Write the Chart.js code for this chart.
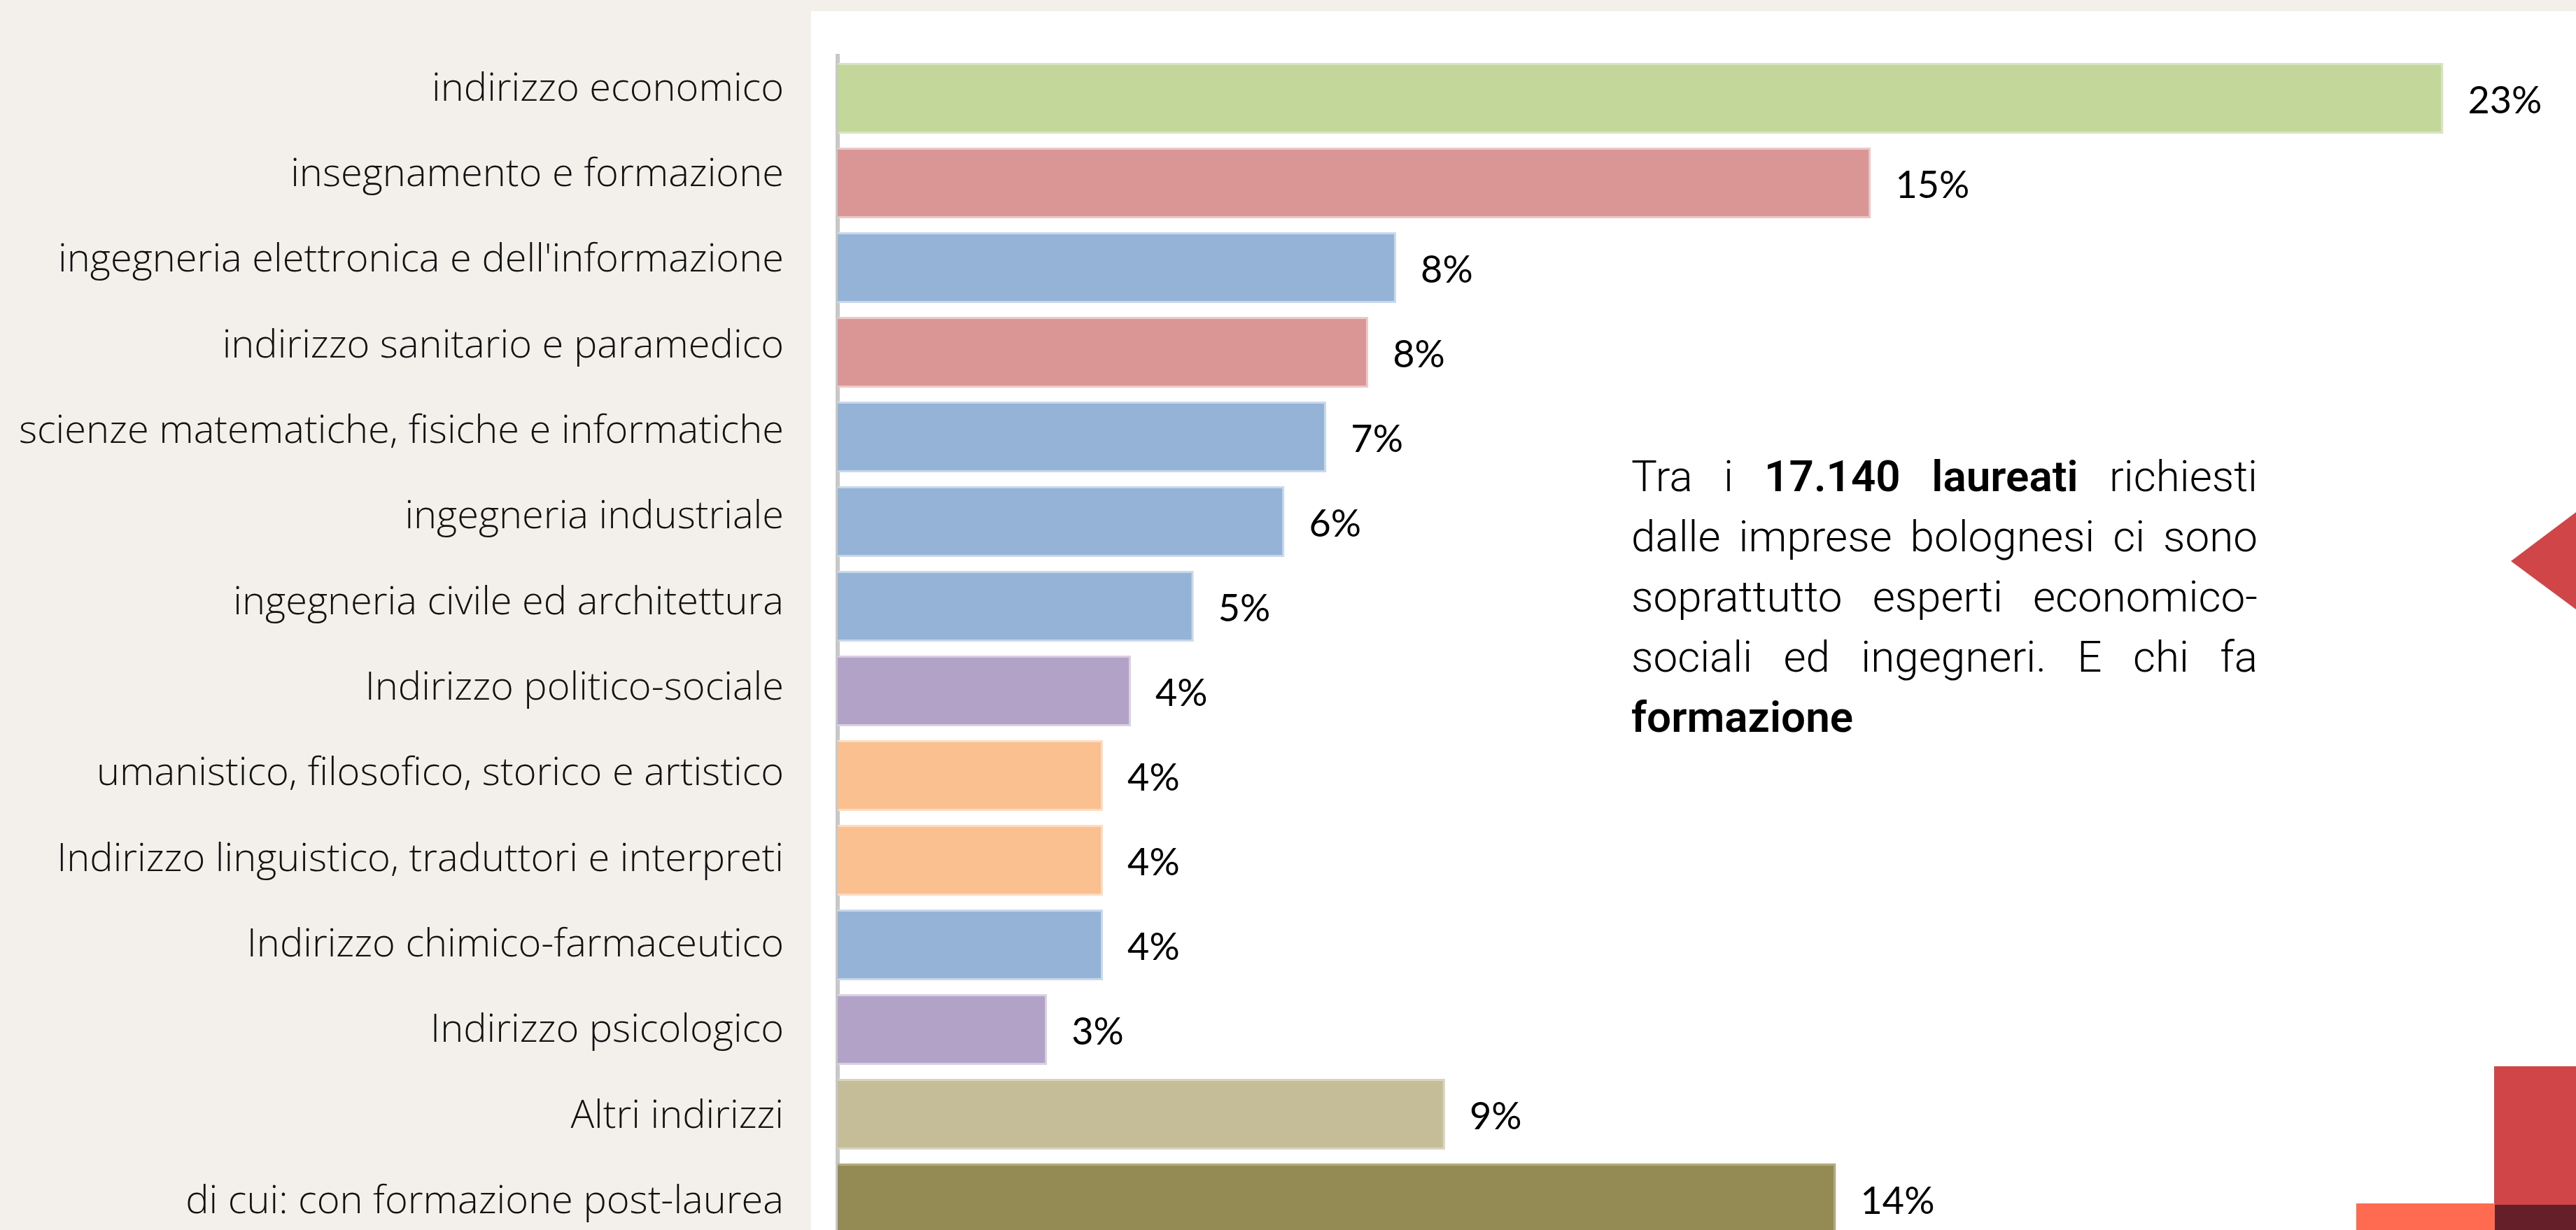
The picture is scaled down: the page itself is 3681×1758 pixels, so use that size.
<!DOCTYPE html>
<html lang="it">
<head>
<meta charset="utf-8">
<title>Laureati richiesti dalle imprese bolognesi</title>
<script src="https://cdn.jsdelivr.net/npm/chart.js@4.4.1/dist/chart.umd.min.js"></script>
<style>
  html, body { margin: 0; padding: 0; }
  body { width: 3681px; height: 1758px; overflow: hidden; background: #f3f0eb; position: relative; }
  #panel { position: absolute; left: 1159px; top: 16px; right: 0; bottom: 0; background: #fff; }
  #chart { position: absolute; left: 0; top: 0; }
  .note { position: absolute; left: 2331px; top: 638px; width: 895px; font-family: Roboto, sans-serif; font-weight: 300; font-size: 62px; line-height: 86px; color: #000; }
  .note .line { text-align: justify; text-align-last: justify; }
  .note b { font-weight: 600; }
  .deco { position: absolute; }
  #arrow { left: 3588px; top: 732px; width: 93px; height: 139px; background: #cf4548; clip-path: polygon(0 70px, 100% 0, 100% 100%); }
  #redBlock { left: 3564px; top: 1524px; right: 0; height: 198px; background: #cf4548; }
  #darkBlock { left: 3565px; top: 1722px; right: 0; bottom: 0; background: #651f29; }
  #orangeBlock { left: 3367px; top: 1720px; width: 198px; bottom: 0; background: #ff6b50; }
</style>
</head>
<body>
<div id="panel"></div>
<canvas id="chart" width="3681" height="1774"></canvas>
<div class="note">
  <div class="line">Tra i <b>17.140 laureati</b> richiesti</div>
  <div class="line">dalle imprese bolognesi ci sono</div>
  <div class="line">soprattutto esperti economico-</div>
  <div class="line">sociali ed ingegneri. E chi fa</div>
  <div><b>formazione</b></div>
</div>
<div class="deco" id="arrow"></div>
<div class="deco" id="redBlock"></div>
<div class="deco" id="orangeBlock"></div>
<div class="deco" id="darkBlock"></div>
<script>
// indirizzi di studio richiesti (quota % sul totale dei laureati)
const categories = [
  "indirizzo economico",
  "insegnamento e formazione",
  "ingegneria elettronica e dell'informazione",
  "indirizzo sanitario e paramedico",
  "scienze matematiche, fisiche e informatiche",
  "ingegneria industriale",
  "ingegneria civile ed architettura",
  "Indirizzo politico-sociale",
  "umanistico, filosofico, storico e artistico",
  "Indirizzo linguistico, traduttori e interpreti",
  "Indirizzo chimico-farmaceutico",
  "Indirizzo psicologico",
  "Altri indirizzi",
  "di cui: con formazione post-laurea"
];
const shares = [23.0, 14.8, 8.0, 7.6, 7.0, 6.4, 5.1, 4.2, 3.8, 3.8, 3.8, 3.0, 8.7, 14.3];
const valueLabels = ["23%", "15%", "8%", "8%", "7%", "6%", "5%", "4%", "4%", "4%", "4%", "3%", "9%", "14%"];

// colori delle barre (riempimento e bordo chiaro)
const barColors = ["#c4d79b", "#d99694", "#95b3d7", "#d99694", "#95b3d7", "#95b3d7", "#95b3d7",
  "#b2a2c7", "#fac090", "#fac090", "#95b3d7", "#b2a2c7", "#c4bd97", "#948a54"];
const barEdges = ["#d8e4bc", "#ecc9c9", "#c9d8ea", "#ecc9c9", "#c9d8ea", "#c9d8ea", "#c9d8ea",
  "#d9d0e3", "#fcdcc2", "#fcdcc2", "#c9d8ea", "#d9d0e3", "#d8d3bd", "#b0a87f"];

// range dell'asse etichette (passo un po' piu' largo delle barre)
const labelMin = -0.392;
const labelMax = 13.459;

// etichette percentuali a destra delle barre
const valueLabelPlugin = {
  id: "valueLabels",
  afterDatasetsDraw(chart) {
    const ctx = chart.ctx;
    const meta = chart.getDatasetMeta(0);
    ctx.save();
    ctx.font = "400 54px Lato";
    ctx.fillStyle = "#000";
    ctx.textAlign = "left";
    ctx.textBaseline = "middle";
    meta.data.forEach((bar, i) => {
      ctx.fillText(valueLabels[i], bar.x + 35, bar.y + 4);
    });
    ctx.restore();
  }
};

function drawChart() {
  new Chart(document.getElementById("chart"), {
    type: "bar",
    data: {
      labels: categories,
      datasets: [{
        data: shares,
        yAxisID: "y",
        backgroundColor: barColors,
        borderColor: barEdges,
        borderWidth: 3,
        borderSkipped: "start",
        categoryPercentage: 1,
        barPercentage: 0.84
      }]
    },
    options: {
      indexAxis: "y",
      responsive: false,
      animation: false,
      devicePixelRatio: 1,
      layout: { padding: { top: 80, right: 0, bottom: 0, left: 0 } },
      plugins: { legend: { display: false }, tooltip: { enabled: false } },
      scales: {
        x: { display: false, min: 0, max: 24.9 },
        y: { type: "category", display: false },
        // asse delle etichette
        y2: {
          type: "linear",
          position: "left",
          reverse: true,
          offset: false,
          bounds: "data",
          min: labelMin,
          max: labelMax,
          afterBuildTicks: (scale) => {
            scale.ticks = categories.map((_, i) => ({ value: i }));
            scale.min = labelMin;
            scale.max = labelMax;
          },
          afterFit: (scale) => {
            scale.width = 1197;
            scale.paddingTop = 0;
            scale.paddingBottom = 0;
          },
          grid: { display: false, drawTicks: false, offset: false },
          border: { display: true, color: "#c8c8c8", width: 6 },
          ticks: {
            autoSkip: false,
            padding: 77,
            color: "#111",
            font: { family: "Open Sans", weight: 300, size: 56 },
            callback: (value) => categories[value]
          }
        }
      }
    },
    plugins: [valueLabelPlugin]
  });
}

Promise.all([
  document.fonts.load("300 56px 'Open Sans'"),
  document.fonts.load("400 54px Lato"),
  document.fonts.load("300 62px Roboto")
]).then(drawChart, drawChart);
</script>
</body>
</html>
